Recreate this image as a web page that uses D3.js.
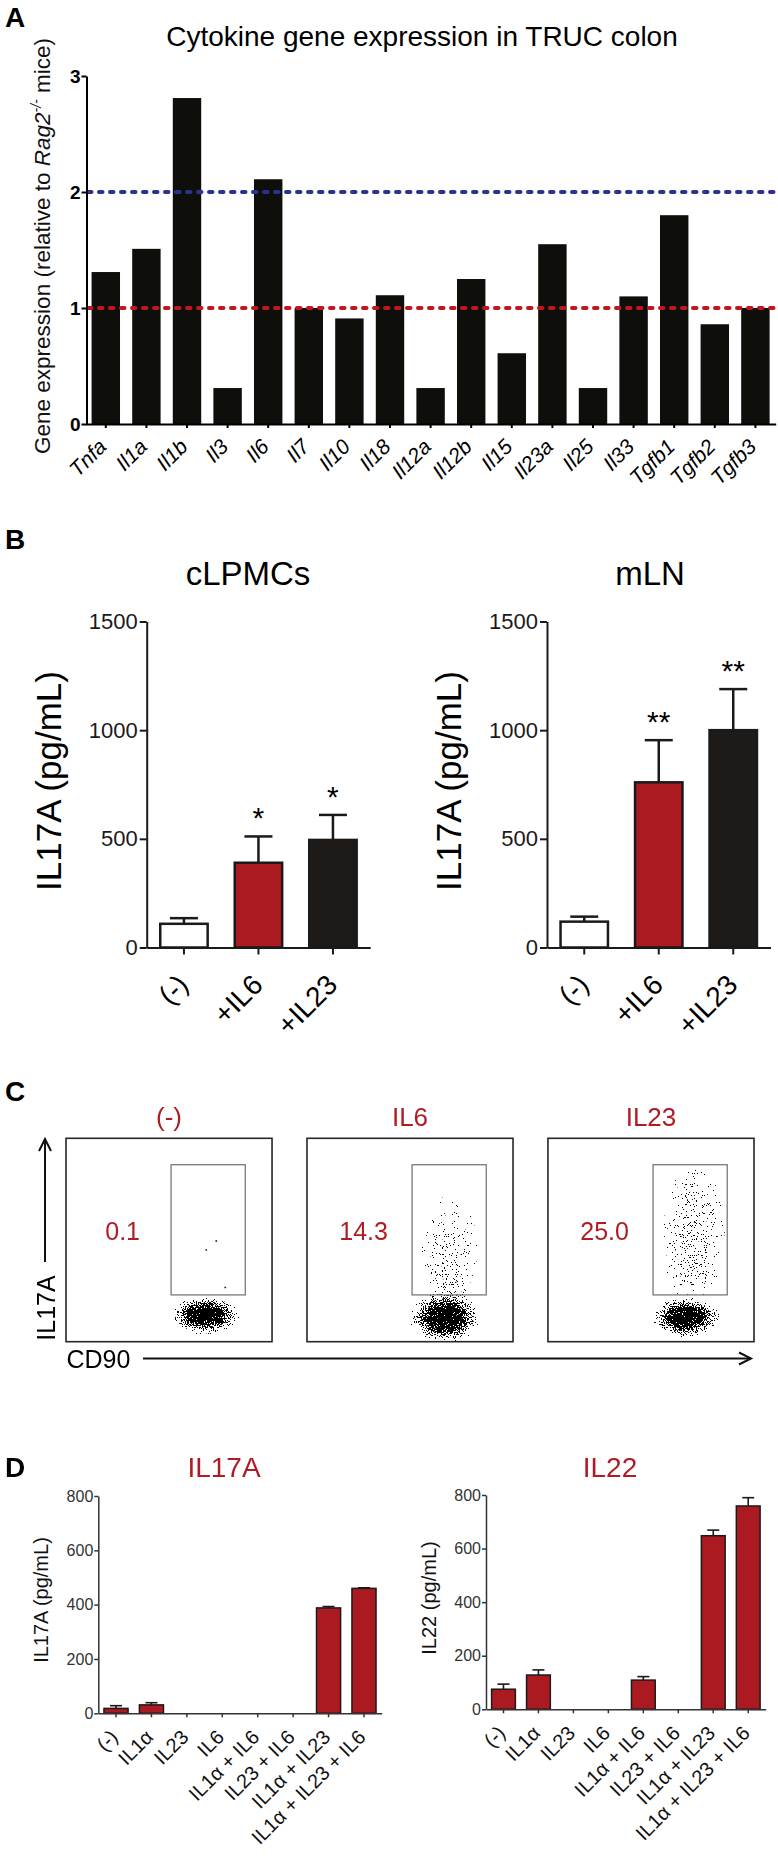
<!DOCTYPE html>
<html><head><meta charset="utf-8">
<script src="https://cdn.jsdelivr.net/npm/d3@7"></script>
<style>body{margin:0;background:#fff}svg{display:block}</style>
</head><body>
<script>
// ---------------- DATA ----------------
// Panel A
const genes = ["Tnfa","Il1a","Il1b","Il3","Il6","Il7","Il10","Il18","Il12a","Il12b","Il15","Il23a","Il25","Il33","Tgfb1","Tgfb2","Tgfb3"];
const geneExpr = [1.31,1.51,2.81,0.31,2.11,1.00,0.91,1.11,0.31,1.25,0.61,1.55,0.31,1.10,1.80,0.86,1.00];
const refLines = [2,1];
const aTicks = [0,1,2,3];
// Panel B
const bGroups = ["(-)","+IL6","+IL23"];
const cLPMCsMean = [109,390,495];
const cLPMCsErr  = [26,121,115];
const cLPMCsSig  = ["","*","*"];
const mLNMean = [119,760,1000];
const mLNErr  = [23,194,189];
const mLNSig  = ["","**","**"];
const bTicks = [0,500,1000,1500];
// Panel C (flow cytometry, axis units 0-100)
const flowConds = ["(-)","IL6","IL23"];
const flowPct = ["0.1","14.3","25.0"];
const gateX = [51,87];
const gateY = [23,87];
const popCond = ["(-)","IL6","IL6","IL6","IL23","IL23","IL23"];
const popCx   = [67.5,67,69,68.5,67,71,70];
const popCy   = [13,12,46,28,12,55,33];
const popRx   = [17,17.5,14,12,16.5,15,13];
const popRy   = [9.5,12.5,26,10,10,32,12];
const popPeak = [1.0,1.0,0.14,0.2,1.0,0.2,0.12];
const sparseCond = ["(-)","(-)","(-)"];
const sparseX = [72.9,68.1,77.3];
const sparseY = [49.5,45.1,26.7];
// Panel D
const dGroups = ["(-)","IL1\u03b1","IL23","IL6","IL1\u03b1 + IL6","IL23 + IL6","IL1\u03b1 + IL23","IL1\u03b1 + IL23 + IL6"];
const il17aMean = [18,31,0,0,0,0,388,460];
const il17aErr  = [10,8,0,0,0,0,5,2];
const il22Mean  = [75,128,0,0,109,0,648,759];
const il22Err   = [19,19,0,0,13,0,21,31];
const dTicks = [0,200,400,600,800];

// ---------------- DRAW ----------------
const F = '"Liberation Sans", Arial, Helvetica, sans-serif';
const RED = "#b01c23";
const svg = d3.select("body").append("svg").attr("width",778).attr("height",1860)
  .style("font-family",F);
svg.append("rect").attr("width",778).attr("height",1860).attr("fill","#fff");
const defs = svg.append("defs");

function panelLabel(t,x,y){
  svg.append("text").attr("x",x).attr("y",y).attr("font-size",28).attr("font-weight","bold").attr("fill","#000").text(t);
}
function styleAxis(g, col, w, fs){
  g.attr("font-family",F).attr("font-size",fs);
  g.select(".domain").attr("stroke",col).attr("stroke-width",w);
  g.selectAll(".tick line").attr("stroke",col).attr("stroke-width",w);
  g.selectAll(".tick text").attr("fill",col);
}

// ===== Panel A =====
panelLabel("A",5,27);
const gA = svg.append("g");
const xA = d3.scaleBand().domain(genes).range([85.5,775.7]).paddingInner(0.3).paddingOuter(0.15);
const yA = d3.scaleLinear().domain([0,3]).range([424,76]);
gA.append("text").attr("x",422).attr("y",46).attr("text-anchor","middle").attr("font-size",28).text("Cytokine gene expression in TRUC colon");
gA.selectAll("rect.bar").data(genes).join("rect").attr("class","bar")
  .attr("x",d=>xA(d)).attr("width",xA.bandwidth())
  .attr("y",(d,i)=>yA(geneExpr[i])).attr("height",(d,i)=>yA(0)-yA(geneExpr[i]))
  .attr("fill","#0e0e0a");
const refCol = ["#2d3190","#c0161f"];
gA.selectAll("line.ref").data(refLines).join("line").attr("class","ref")
  .attr("x1",88).attr("x2",778).attr("y1",d=>yA(d)).attr("y2",d=>yA(d))
  .attr("stroke",(d,i)=>refCol[i]).attr("stroke-width",4).attr("stroke-linecap","round")
  .attr("stroke-dasharray","3.5 7.5");
const axAy = gA.append("g").attr("transform","translate(86.5,0)")
  .call(d3.axisLeft(yA).tickValues(aTicks).tickSize(5).tickSizeOuter(0).tickPadding(1).tickFormat(d3.format("d")));
styleAxis(axAy,"#000",2,19);
axAy.selectAll(".tick text").attr("font-weight","bold");
const axAx = gA.append("g").attr("transform","translate(0,424)")
  .call(d3.axisBottom(xA).tickSize(4).tickSizeOuter(0).tickFormat(""));
styleAxis(axAx,"#000",2,18);
gA.selectAll("text.gl").data(genes).join("text").attr("class","gl")
  .attr("transform",d=>`translate(${xA(d)+xA.bandwidth()/2+2},${424+24}) rotate(-45)`)
  .attr("text-anchor","end").attr("font-size",21).attr("font-style","italic").text(d=>d);
const ylA = gA.append("text").attr("transform","translate(50,246) rotate(-90)")
  .attr("text-anchor","middle").attr("font-size",22.5).attr("fill","#111");
ylA.append("tspan").text("Gene expression (relative to ");
ylA.append("tspan").attr("font-style","italic").text("Rag2");
ylA.append("tspan").attr("font-style","italic").attr("font-size",14).attr("dy",-9).text("-/-");
ylA.append("tspan").attr("dy",9).text(" mice)");

// ===== Panel B =====
panelLabel("B",5,549);
const bCols = ["#ffffff","#ab1a21","#1e1a18"];
function drawB(means, errs, sigs, title, axisX, titleX, ylabX){
  const g = svg.append("g");
  const x = d3.scaleBand().domain(bGroups).range([axisX, axisX+223.5]).paddingInner(0.33).paddingOuter(0.165);
  const y = d3.scaleLinear().domain([0,1500]).range([947.5,621.5]);
  g.append("text").attr("x",titleX).attr("y",585).attr("text-anchor","middle").attr("font-size",33).text(title);
  g.append("text").attr("transform",`translate(${ylabX},781) rotate(-90)`).attr("text-anchor","middle")
    .attr("font-size",35).text("IL17A (pg/mL)");
  const cx = d=>x(d)+x.bandwidth()/2;
  g.selectAll("line.eb").data(bGroups).join("line").attr("class","eb")
    .attr("x1",cx).attr("x2",cx).attr("y1",(d,i)=>y(means[i])).attr("y2",(d,i)=>y(means[i]+errs[i]))
    .attr("stroke","#1a1a1a").attr("stroke-width",2.5);
  g.selectAll("line.cap").data(bGroups).join("line").attr("class","cap")
    .attr("x1",d=>cx(d)-14).attr("x2",d=>cx(d)+14).attr("y1",(d,i)=>y(means[i]+errs[i])).attr("y2",(d,i)=>y(means[i]+errs[i]))
    .attr("stroke","#1a1a1a").attr("stroke-width",2.5);
  g.selectAll("rect.bar").data(bGroups).join("rect").attr("class","bar")
    .attr("x",d=>x(d)+1.25).attr("width",x.bandwidth()-2.5)
    .attr("y",(d,i)=>y(means[i])).attr("height",(d,i)=>y(0)-y(means[i]))
    .attr("fill",(d,i)=>bCols[i]).attr("stroke","#1a1a1a").attr("stroke-width",2.5);
  g.selectAll("text.sig").data(bGroups).join("text").attr("class","sig")
    .attr("x",cx).attr("y",(d,i)=>y(means[i]+errs[i])-8).attr("text-anchor","middle")
    .attr("font-size",30).text((d,i)=>sigs[i]);
  const ay = g.append("g").attr("transform",`translate(${axisX},0)`)
    .call(d3.axisLeft(y).tickValues(bTicks).tickSize(7).tickSizeOuter(0).tickPadding(2).tickFormat(d3.format("d")));
  styleAxis(ay,"#1a1a1a",2,22);
  const ax = g.append("g").attr("transform","translate(0,947.5)")
    .call(d3.axisBottom(x).tickSize(7).tickSizeOuter(0).tickFormat(""));
  styleAxis(ax,"#1a1a1a",2,22);
  g.selectAll("text.xl").data(bGroups).join("text").attr("class","xl")
    .attr("transform",d=>`translate(${cx(d)+6},${947.5+39}) rotate(-45)`)
    .attr("text-anchor","end").attr("font-size",28).text(d=>d);
}
drawB(cLPMCsMean, cLPMCsErr, cLPMCsSig, "cLPMCs", 146.7, 248, 61);
drawB(mLNMean, mLNErr, mLNSig, "mLN", 547, 650, 461);

// ===== Panel C =====
panelLabel("C",5,1101);
const gC = svg.append("g");
const boxX = d3.scaleBand().domain(flowConds).range([66,754]).paddingInner(0.145).paddingOuter(0);
const blob = defs.append("radialGradient").attr("id","blobGrad");
blob.append("stop").attr("offset","0%").attr("stop-color","#000").attr("stop-opacity",1);
blob.append("stop").attr("offset","45%").attr("stop-color","#000").attr("stop-opacity",0.8);
blob.append("stop").attr("offset","80%").attr("stop-color","#000").attr("stop-opacity",0.3);
blob.append("stop").attr("offset","100%").attr("stop-color","#000").attr("stop-opacity",0);
const flt = defs.append("filter").attr("id","stipple").attr("filterUnits","userSpaceOnUse")
  .attr("x",0).attr("y",1130).attr("width",778).attr("height",220)
  .attr("color-interpolation-filters","sRGB");
flt.append("feTurbulence").attr("type","fractalNoise").attr("baseFrequency",0.9).attr("numOctaves",2).attr("seed",7).attr("result","noise");
flt.append("feColorMatrix").attr("in","noise").attr("type","matrix")
  .attr("values","0 0 0 0 0  0 0 0 0 0  0 0 0 0 0  2 0 0 0 -0.5").attr("result","n");
flt.append("feComposite").attr("in","SourceAlpha").attr("in2","n").attr("operator","arithmetic")
  .attr("k1",0).attr("k2",1).attr("k3",-1).attr("k4",0).attr("result","diff");
flt.append("feComponentTransfer").attr("in","diff").append("feFuncA").attr("type","linear").attr("slope",100).attr("intercept",0);

const popLayer = gC.append("g").attr("filter","url(#stipple)");
flowConds.forEach((c,k)=>{
  const x0 = boxX(c), w = boxX.bandwidth();
  const fx = d3.scaleLinear().domain([0,100]).range([x0,x0+w]);
  const fy = d3.scaleLinear().domain([0,100]).range([1341.7,1138.3]);
  const cid = "clipF"+k;
  defs.append("clipPath").attr("id",cid).append("rect").attr("x",fx(0)).attr("y",fy(100)).attr("width",w).attr("height",fy(0)-fy(100));
  const idx = popCond.map((p,i)=>p===c?i:-1).filter(i=>i>=0);
  popLayer.append("g").attr("clip-path",`url(#${cid})`).selectAll("ellipse").data(idx).join("ellipse")
    .attr("cx",i=>fx(popCx[i])).attr("cy",i=>fy(popCy[i]))
    .attr("rx",i=>fx(popRx[i])-fx(0)).attr("ry",i=>fy(0)-fy(popRy[i]))
    .attr("fill","url(#blobGrad)").attr("fill-opacity",i=>popPeak[i]);
  const sp = sparseCond.map((p,i)=>p===c?i:-1).filter(i=>i>=0);
  gC.selectAll("circle.sp"+k).data(sp).join("circle").attr("class","sp"+k)
    .attr("cx",i=>fx(sparseX[i])).attr("cy",i=>fy(sparseY[i])).attr("r",0.9).attr("fill","#222");
  gC.append("rect").attr("x",fx(gateX[0])).attr("y",fy(gateY[1])).attr("width",fx(gateX[1])-fx(gateX[0]))
    .attr("height",fy(gateY[0])-fy(gateY[1])).attr("fill","none").attr("stroke","#6d6d6d").attr("stroke-width",1.2);
  gC.append("rect").attr("x",fx(0)).attr("y",fy(100)).attr("width",w).attr("height",fy(0)-fy(100))
    .attr("fill","none").attr("stroke","#262626").attr("stroke-width",1.6);
  gC.append("text").attr("x",fx(50)).attr("y",1126).attr("text-anchor","middle").attr("font-size",26).attr("fill",RED).text(c);
  gC.append("text").attr("x",fx(27.5)).attr("y",fy(50)).attr("text-anchor","middle").attr("font-size",25).attr("fill",RED).text(flowPct[k]);
});
// axis arrows
gC.append("line").attr("x1",45).attr("x2",45).attr("y1",1262).attr("y2",1139).attr("stroke","#111").attr("stroke-width",2);
gC.append("path").attr("d","M39,1151 L45,1139 L51,1151").attr("fill","none").attr("stroke","#111").attr("stroke-width",2);
gC.append("text").attr("transform","translate(55,1308) rotate(-90)").attr("text-anchor","middle").attr("font-size",25).text("IL17A");
gC.append("text").attr("x",66.5).attr("y",1368).attr("font-size",25).text("CD90");
gC.append("line").attr("x1",143).attr("x2",751).attr("y1",1358.5).attr("y2",1358.5).attr("stroke","#111").attr("stroke-width",2);
gC.append("path").attr("d","M739,1352.5 L751,1358.5 L739,1364.5").attr("fill","none").attr("stroke","#111").attr("stroke-width",2);

// ===== Panel D =====
panelLabel("D",5,1477);
function drawD(means, errs, title, axisX, axisR, y0, y800, titleX, ylab, ylabX, ylabY){
  const g = svg.append("g");
  const x = d3.scaleBand().domain(dGroups).range([axisX,axisR]).paddingInner(0.32).paddingOuter(0.16);
  const y = d3.scaleLinear().domain([0,800]).range([y0,y800]);
  const cx = d=>x(d)+x.bandwidth()/2;
  g.append("text").attr("x",titleX).attr("y",1477).attr("text-anchor","middle").attr("font-size",28).attr("fill",RED).text(title);
  g.append("text").attr("transform",`translate(${ylabX},${ylabY}) rotate(-90)`).attr("text-anchor","middle").attr("font-size",20).attr("fill","#111").text(ylab);
  const withErr = dGroups.filter((d,i)=>errs[i]>0);
  const gi = d=>dGroups.indexOf(d);
  g.selectAll("line.eb").data(withErr).join("line").attr("class","eb")
    .attr("x1",cx).attr("x2",cx).attr("y1",d=>y(means[gi(d)])).attr("y2",d=>y(means[gi(d)]+errs[gi(d)]))
    .attr("stroke","#1a1a1a").attr("stroke-width",1.6);
  g.selectAll("line.cap").data(withErr).join("line").attr("class","cap")
    .attr("x1",d=>cx(d)-6).attr("x2",d=>cx(d)+6).attr("y1",d=>y(means[gi(d)]+errs[gi(d)])).attr("y2",d=>y(means[gi(d)]+errs[gi(d)]))
    .attr("stroke","#1a1a1a").attr("stroke-width",1.6);
  const withBar = dGroups.filter((d,i)=>means[i]>0);
  g.selectAll("rect.bar").data(withBar).join("rect").attr("class","bar")
    .attr("x",d=>x(d)).attr("width",x.bandwidth())
    .attr("y",d=>y(means[gi(d)])).attr("height",d=>y(0)-y(means[gi(d)]))
    .attr("fill","#ab1a21").attr("stroke","#1a1a1a").attr("stroke-width",1.5);
  const ay = g.append("g").attr("transform",`translate(${axisX},0)`)
    .call(d3.axisLeft(y).tickValues(dTicks).tickSize(4).tickSizeOuter(0).tickPadding(1));
  styleAxis(ay,"#333",1.5,16);
  const ax = g.append("g").attr("transform",`translate(0,${y0})`)
    .call(d3.axisBottom(x).tickSize(4).tickSizeOuter(0).tickFormat(""));
  styleAxis(ax,"#333",1.5,16);
  g.selectAll("text.xl").data(dGroups).join("text").attr("class","xl")
    .attr("transform",d=>`translate(${cx(d)+3},${y0+25}) rotate(-45)`)
    .attr("text-anchor","end").attr("font-size",20).attr("fill","#111").text(d=>d);
}
drawD(il17aMean, il17aErr, "IL17A", 98.3, 381.7, 1713.3, 1496, 224, "IL17A (pg/mL)", 47.5, 1600);
drawD(il22Mean, il22Err, "IL22", 486, 765.7, 1709.3, 1495, 610, "IL22 (pg/mL)", 436, 1598);
</script>
</body></html>
